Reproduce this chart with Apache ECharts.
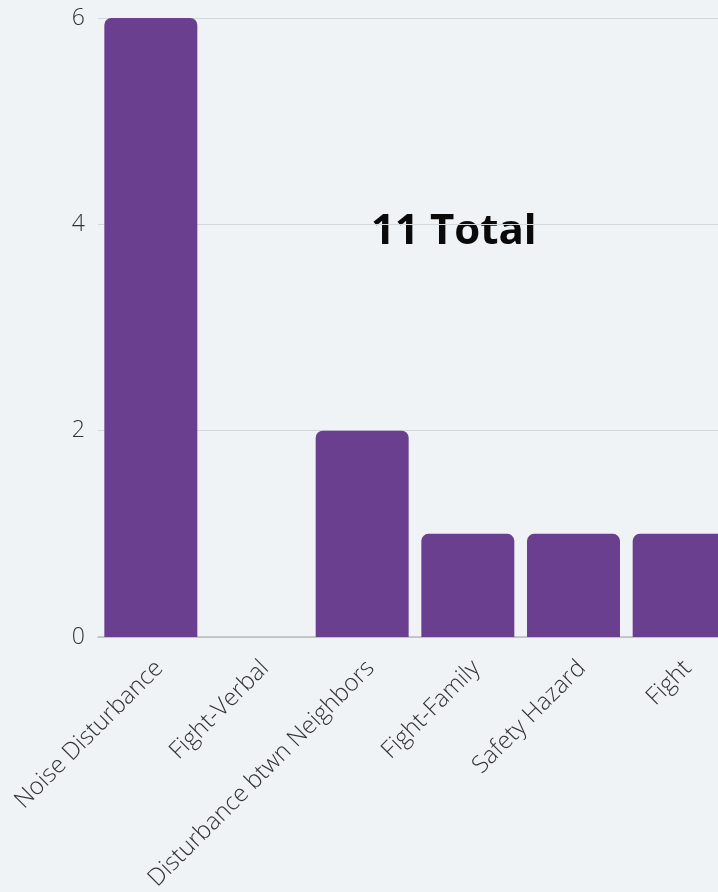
<!DOCTYPE html>
<html><head><meta charset="utf-8">
<script src="https://cdn.jsdelivr.net/npm/echarts@6/dist/echarts.min.js"></script>
<style>html,body{margin:0;padding:0;background:#eff3f5;overflow:hidden;width:718px;height:892px}#c{width:732px;height:892px}</style>
</head><body><div id="c"></div>
<script>
const categories = ["Noise Disturbance","Fight-Verbal","Disturbance btwn Neighbors","Fight-Family","Safety Hazard","Fight"];
const values = [6,0,2,1,1,1];
const totalLabel = "11 Total";
const chart = echarts.init(document.getElementById('c'), null, {renderer:'canvas'});
chart.setOption({
  backgroundColor:'#eff3f5',
  animation:false,
  grid:{left:98,right:0,top:18,bottom:255,containLabel:false,outerBoundsMode:'none'},
  xAxis:{type:'category',data:categories,
    axisLine:{lineStyle:{color:'#b8bcbf',width:1.5}},axisTick:{show:false},
    axisLabel:{rotate:45,interval:0,margin:19,verticalAlign:'top',fontFamily:'Open Sans',fontSize:24,fontWeight:300,color:'#333333'}},
  yAxis:{type:'value',min:0,max:6,interval:2,
    axisLine:{show:false},axisTick:{show:false},
    splitLine:{lineStyle:{color:'#d3d8db',width:1}},
    axisLabel:{margin:13,fontFamily:'Open Sans',fontSize:23,fontWeight:300,color:'#333333'}},
  series:[{type:'bar',data:values,barCategoryGap:'12%',
    itemStyle:{color:'#6a3f8f',borderRadius:[7,7,0,0]}}],
  graphic:[{type:'text',left:371,top:211,style:{text:totalLabel,font:'bold 42px "Open Sans"',fill:'#0a0a0a'}}]
});
</script></body></html>
